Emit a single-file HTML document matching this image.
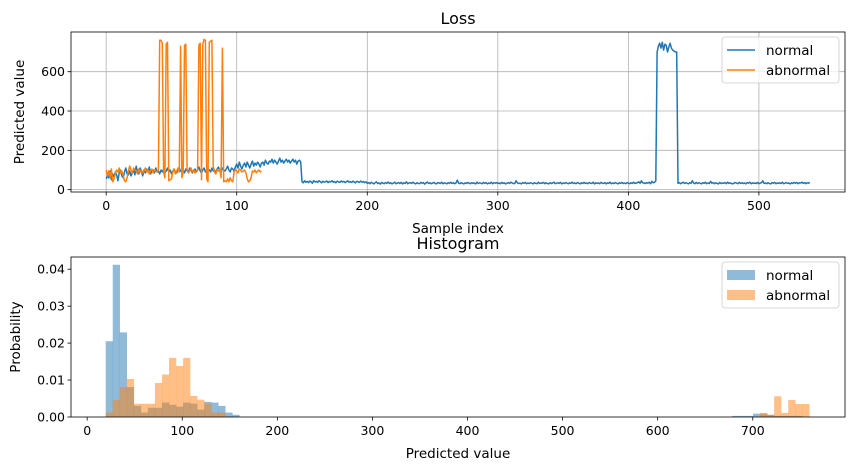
<!DOCTYPE html>
<html><head><meta charset="utf-8"><style>
body{margin:0;background:#fff}
svg{display:block;font-family:"DejaVu Sans","Liberation Sans",sans-serif}
</style></head><body>
<svg id="c" width="855" height="470" viewBox="0 0 855 470"></svg>
<script>
// ---- data ----
const normalLoss = [
55,70,60,95,50,80,65,90,75,45,85,100,70,60,90,110,80,75,95,70,
85,100,75,120,90,80,110,95,70,100,85,105,90,115,80,95,100,85,110,90,
95,80,100,90,105,85,95,110,90,100,80,95,105,90,85,100,110,95,90,100,
85,105,95,90,110,100,85,95,105,90,100,115,95,85,100,110,90,95,105,100,
90,110,95,100,85,105,115,95,90,110,100,95,105,120,100,90,110,105,95,115,
130,110,140,120,105,125,135,115,140,125,110,130,145,120,135,125,140,130,115,135,
140,125,150,135,130,145,140,155,135,150,140,130,145,160,140,150,135,145,155,140,
150,135,145,155,140,150,130,145,150,140,
40,35,45,38,42,36,44,40,33,46,39,42,37,45,41,35,43,38,40,44,
36,42,39,45,38,41,35,43,40,37,44,39,42,36,40,45,38,41,37,43,
39,35,42,40,37,44,38,41,36,40,
32,36,30,38,33,29,35,40,31,34,28,37,33,30,36,32,39,31,35,29,
34,38,30,33,36,31,37,29,35,32,40,30,34,36,31,38,33,29,35,32,
30,37,33,36,28,34,39,31,35,30,33,37,32,29,36,34,31,38,30,35,
33,29,36,32,38,31,35,30,34,48,33,30,36,32,29,35,31,37,33,30,
36,32,34,29,38,31,35,33,30,37,32,36,29,34,31,38,30,35,33,36,
31,34,30,37,32,35,29,33,36,31,38,34,30,32,45,35,31,33,29,36,
32,37,30,34,31,35,33,29,36,32,30,38,31,34,33,37,30,35,32,29,
36,31,34,38,30,33,35,32,37,29,34,31,36,33,30,35,32,38,31,34,
30,36,33,29,35,31,37,32,34,30,36,33,31,38,29,35,32,34,30,37,
33,31,36,29,35,32,38,30,34,31,36,33,29,35,32,37,31,34,30,36,
33,30,35,32,38,31,34,36,40,33,45,35,
34,31,36,33,38,30,42,35,37,44,
700,730,745,720,750,710,740,735,700,725,745,720,710,705,700,700,
32,36,30,34,38,31,35,33,29,36,32,45,34,30,37,31,35,33,29,36,
32,38,30,34,31,42,33,36,30,35,32,29,37,31,34,33,36,30,38,32,
35,31,29,34,36,33,30,37,32,35,31,34,29,36,33,38,30,35,32,34,
31,37,30,33,36,45,32,34,30,35,31,29,36,33,37,30,34,32,35,31,
38,30,33,36,32,34,29,35,31,37,33,36,30,35,34,38,32,36,30,35,
33,37
];
const abnormalLoss = [
100,70,95,60,105,40,55,80,100,90,110,85,95,70,45,40,60,95,120,100,
85,110,100,95,80,105,90,100,85,95,110,90,100,80,95,105,85,100,95,90,
100,760,760,745,90,60,740,750,45,50,55,90,105,80,95,110,90,730,60,90,
735,740,100,85,95,110,90,100,85,95,100,735,745,50,740,765,760,55,40,750,
755,760,120,90,80,100,95,105,60,720,40,45,40,55,40,60,45,40,90,100,
95,85,105,100,90,95,100,85,55,40,45,60,95,90,100,85,95,100,90,95
];
const lossXTicks = [0,100,200,300,400,500];
const lossYTicks = [0,200,400,600];
// histogram: bin index -> density (bins start at 19.5, width 7.4)
const binStart = 19.5, binWidth = 7.4;
const normalBinsLow = [0.0205,0.0412,0.0229,0.0081,0.0030,0.0012,0.0025,0.0025,0.0039,0.0033,0.0028,0.0039,0.0036,0.0020,0.0041,0.0039,0.0030,0.0012,0.0006];
const abnormalBinsLow = [0.0012,0.0046,0.0081,0.0103,0.0036,0.0036,0.0036,0.0092,0.0115,0.0160,0.0138,0.0160,0.0057,0.0047,0.0036,0.0012,0.0012,0,0];
const highStartBin = 89;
const normalBinsHigh = [0.0003,0.0003,0.0003,0.0009,0.0009,0.0006,0.0003,0.0003,0.0003,0.0003,0];
const abnormalBinsHigh = [0,0,0,0,0.0011,0.0006,0.0056,0.0011,0.0046,0.0035,0.0035];
const histXTicks = [0,100,200,300,400,500,600,700];
const histYTicks = [0,0.01,0.02,0.03,0.04];

// ---- drawing ----
const NS="http://www.w3.org/2000/svg", svg=document.getElementById('c');
function el(t,a,p){const e=document.createElementNS(NS,t);for(const k in a)e.setAttribute(k,a[k]);(p||svg).appendChild(e);return e;}
function txt(s,a,p){const e=el('text',a,p);e.textContent=s;return e;}
const L=71,R=845, TF=12.5, LF=13.5, HF=16;
// top axes
const T1=32,B1=192, x1=v=>L+(v+26.95)/(565.95+26.95)*(R-L), y1=v=>B1-(v+12)/(802+12)*(B1-T1);
const g1=el('g',{});


lossXTicks.forEach(t=>{const x=x1(t);
 el('line',{x1:x,x2:x,y1:T1,y2:B1,stroke:'#b0b0b0','stroke-width':0.8},g1);
 el('line',{x1:x,x2:x,y1:B1,y2:B1+3.5,stroke:'#000','stroke-width':0.8},g1);
 const e=txt(String(t),{x:x,y:B1+18,'font-size':TF,'text-anchor':'middle'},g1);
 });
lossYTicks.forEach(t=>{const y=y1(t);
 el('line',{x1:L,x2:R,y1:y,y2:y,stroke:'#b0b0b0','stroke-width':0.8},g1);
 el('line',{x1:L-3.5,x2:L,y1:y,y2:y,stroke:'#000','stroke-width':0.8},g1);
 const e=txt(String(t),{x:L-6,y:y+4.5,'font-size':TF,'text-anchor':'end'},g1);
 });
const pn=el('polyline',{points:normalLoss.map((v,i)=>x1(i).toFixed(1)+','+y1(v).toFixed(1)).join(' '),fill:'none',stroke:'#1f77b4','stroke-width':1.5,'stroke-linejoin':'round'},g1);

const pa=el('polyline',{points:abnormalLoss.map((v,i)=>x1(i).toFixed(1)+','+y1(v).toFixed(1)).join(' '),fill:'none',stroke:'#ff7f0e','stroke-width':1.5,'stroke-linejoin':'round'},g1);

el('rect',{x:L,y:T1,width:R-L,height:B1-T1,fill:'none',stroke:'#000','stroke-width':0.8},g1);
const tt1=txt('Loss',{x:(L+R)/2,y:T1-8,'font-size':HF,'text-anchor':'middle'},g1);

const xl1=txt('Sample index',{x:(L+R)/2,y:233,'font-size':LF,'text-anchor':'middle'},g1);

const yl1=txt('Predicted value',{x:0,y:0,'font-size':LF,'text-anchor':'middle',transform:`translate(24,${(T1+B1)/2}) rotate(-90)`},g1);

const lg1=el('g',{},g1);
el('rect',{x:722,y:37,width:117,height:46,rx:3,fill:'#fff','fill-opacity':0.8,stroke:'#ccc','stroke-width':0.8},lg1);
el('line',{x1:727,x2:755,y1:50,y2:50,stroke:'#1f77b4','stroke-width':1.5},lg1);
txt('normal',{x:766,y:55,'font-size':LF},lg1);
el('line',{x1:727,x2:755,y1:70,y2:70,stroke:'#ff7f0e','stroke-width':1.5},lg1);
txt('abnormal',{x:766,y:75,'font-size':LF},lg1);

// bottom axes
const T2=257,B2=417, x2=v=>L+(v+17)/(797+17)*(R-L), y2=v=>B2-v/0.0433*(B2-T2);
const g2=el('g',{});


function bars(arr,start,color,name){arr.forEach((v,i)=>{if(!v)return;const a=binStart+(start+i)*binWidth;
 const r=el('rect',{x:x2(a),y:y2(v),width:x2(a+binWidth)-x2(a)+0.2,height:B2-y2(v),fill:color,'fill-opacity':0.5},g2);
 });}
bars(normalBinsLow,0,'#1f77b4','normal-bar');bars(normalBinsHigh,highStartBin,'#1f77b4','normal-bar');
bars(abnormalBinsLow,0,'#ff7f0e','abnormal-bar');bars(abnormalBinsHigh,highStartBin,'#ff7f0e','abnormal-bar');
histXTicks.forEach(t=>{const x=x2(t);
 el('line',{x1:x,x2:x,y1:B2,y2:B2+3.5,stroke:'#000','stroke-width':0.8},g2);
 const e=txt(String(t),{x:x,y:B2+18,'font-size':TF,'text-anchor':'middle'},g2);
 });
histYTicks.forEach(t=>{const y=y2(t);
 el('line',{x1:L-3.5,x2:L,y1:y,y2:y,stroke:'#000','stroke-width':0.8},g2);
 const e=txt(t.toFixed(2),{x:L-6,y:y+4.5,'font-size':TF,'text-anchor':'end'},g2);
 });
el('rect',{x:L,y:T2,width:R-L,height:B2-T2,fill:'none',stroke:'#000','stroke-width':0.8},g2);
const tt2=txt('Histogram',{x:(L+R)/2,y:249,'font-size':HF,'text-anchor':'middle'},g2);

const xl2=txt('Predicted value',{x:(L+R)/2,y:458,'font-size':LF,'text-anchor':'middle'},g2);

const yl2=txt('Probability',{x:0,y:0,'font-size':LF,'text-anchor':'middle',transform:`translate(20,${(T2+B2)/2}) rotate(-90)`},g2);

const lg2=el('g',{},g2);
el('rect',{x:722,y:262,width:117,height:46,rx:3,fill:'#fff','fill-opacity':0.8,stroke:'#ccc','stroke-width':0.8},lg2);
el('rect',{x:727,y:270,width:28,height:10,fill:'#1f77b4','fill-opacity':0.5},lg2);
txt('normal',{x:766,y:280,'font-size':LF},lg2);
el('rect',{x:727,y:290,width:28,height:10,fill:'#ff7f0e','fill-opacity':0.5},lg2);
txt('abnormal',{x:766,y:300,'font-size':LF},lg2);
</script>
</body></html>
